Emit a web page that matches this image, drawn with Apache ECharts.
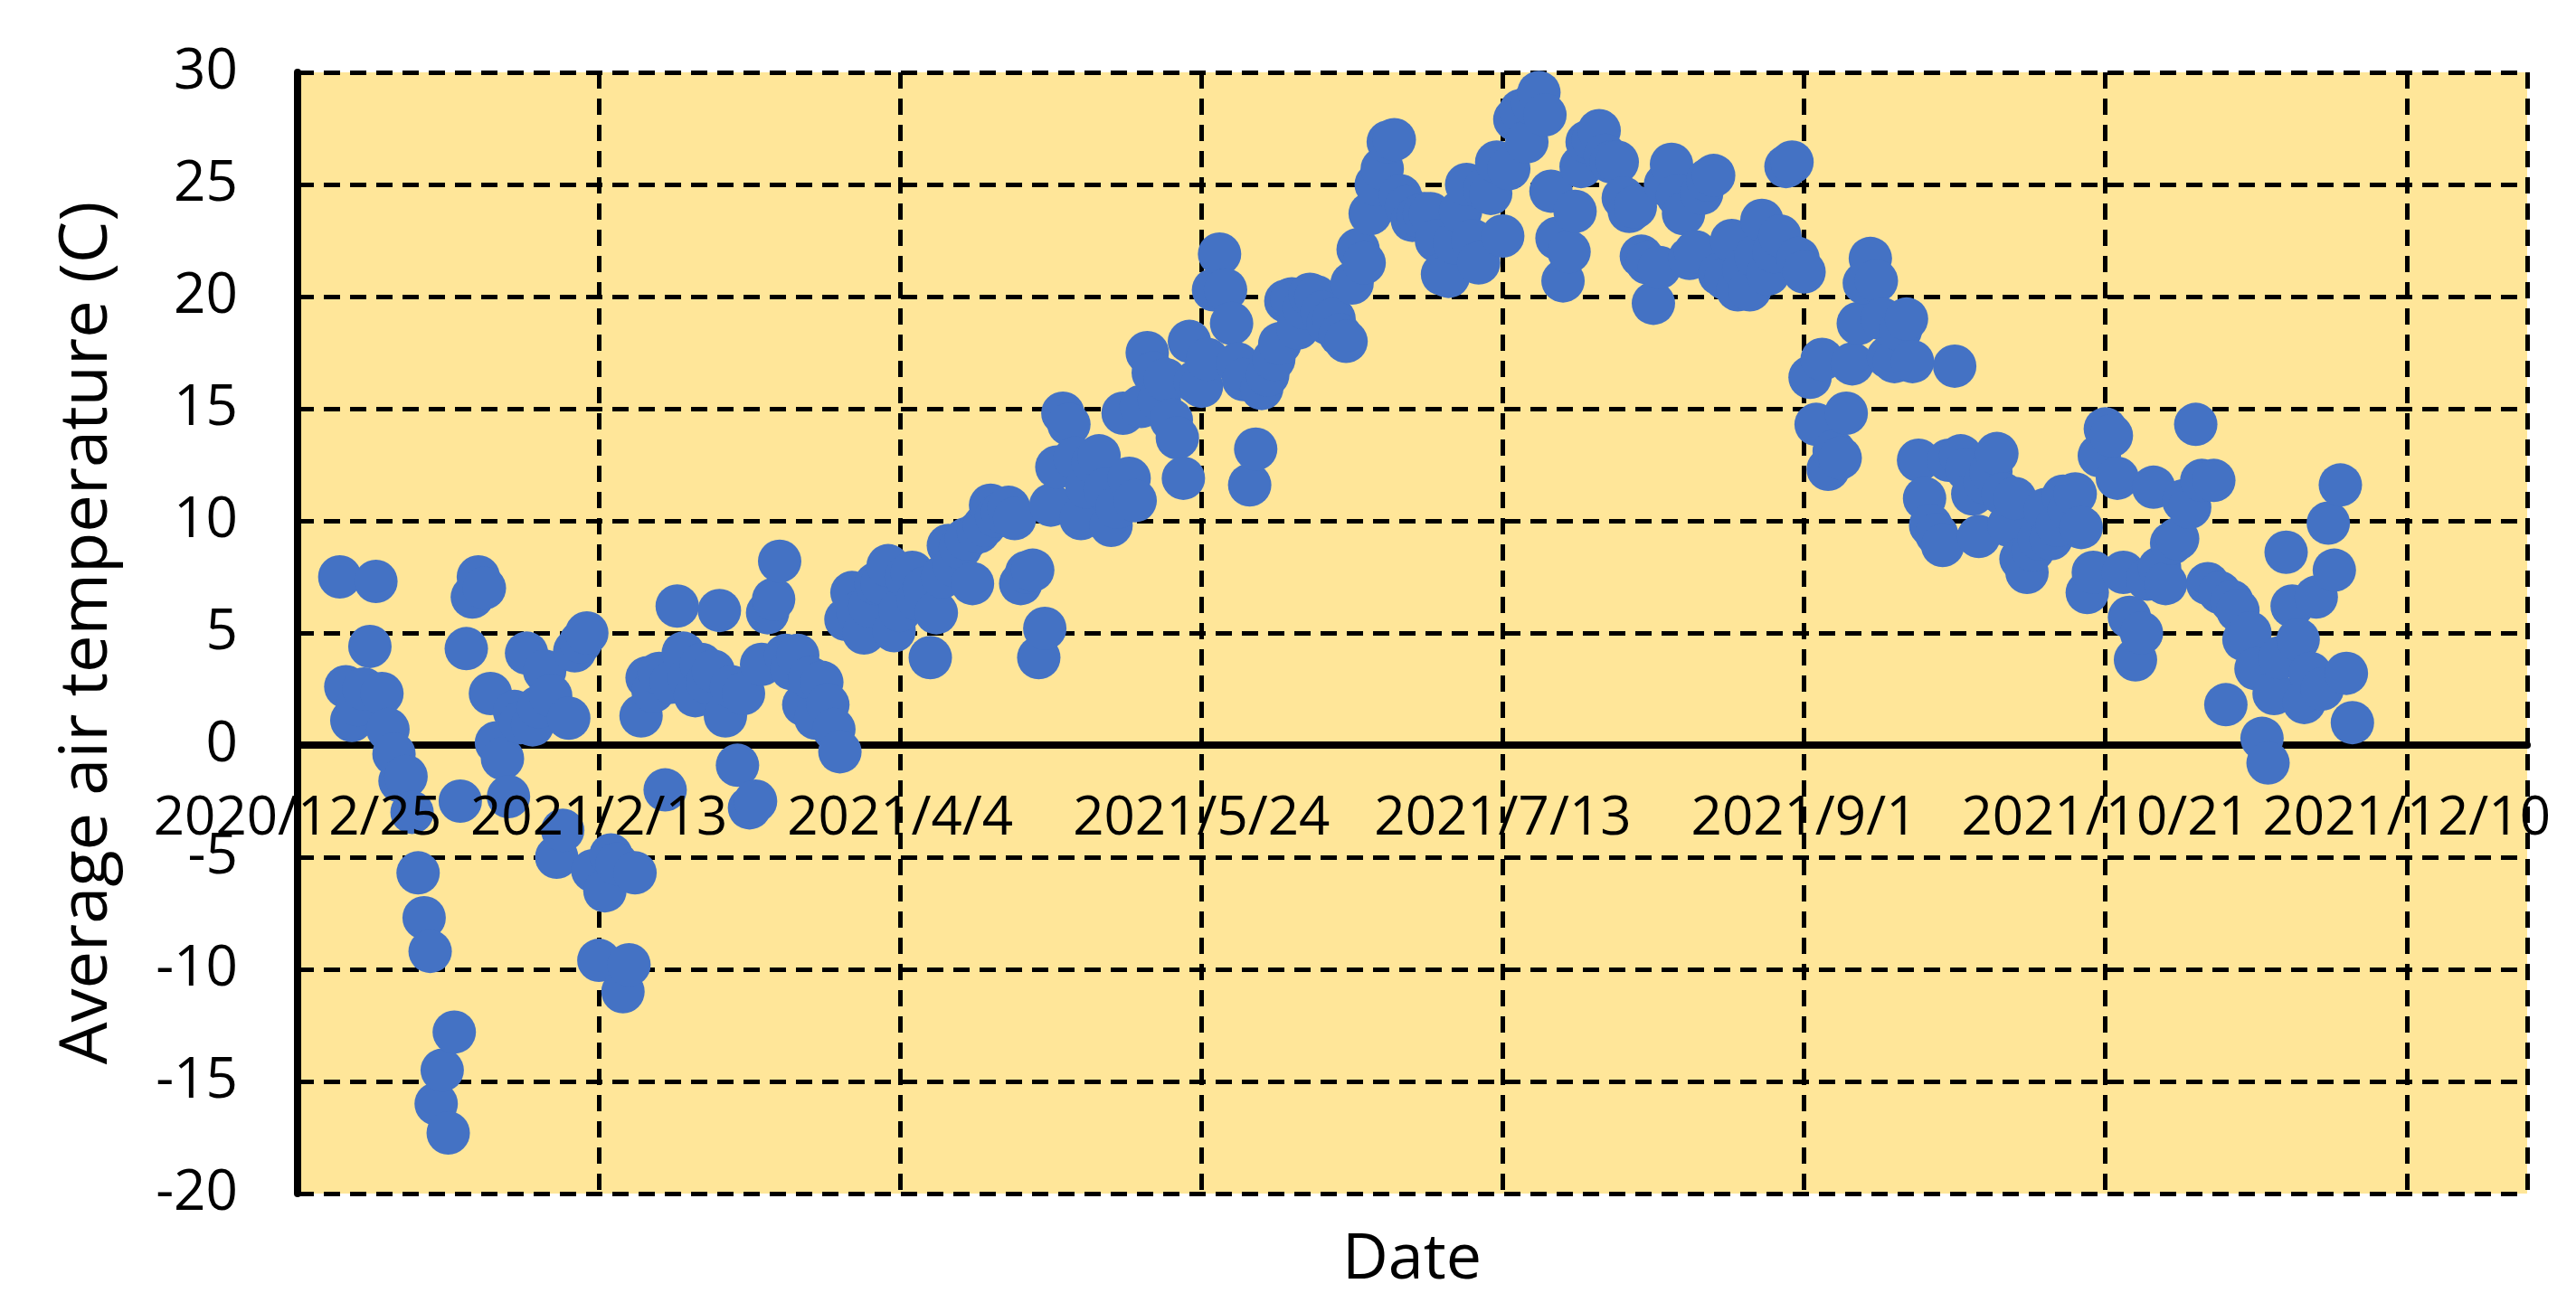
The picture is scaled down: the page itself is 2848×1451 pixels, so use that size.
<!DOCTYPE html>
<html><head><meta charset="utf-8">
<script src="https://cdn.jsdelivr.net/npm/echarts@6/dist/echarts.min.js"></script>
<style>html,body{margin:0;padding:0;background:#fff}#c{width:2848px;height:1451px}</style>
</head><body><div id="c"></div>
<script>
// x axis: days counted from 2020/12/25; one tick every 50 days
const xTickLabels = ['2020/12/25','2021/2/13','2021/4/4','2021/5/24','2021/7/13','2021/9/1','2021/10/21','2021/12/10'];
const firstDataDay = 7; // 2021/1/1
// daily average air temperature (C), by month of 2021
const jan = [7.5, 2.6, 1.1, 1.8, 2.5, 4.4, 7.3, 2.3, 0.7, -0.4, -1.6, -1.4, -3.0, -5.7, -7.7, -9.2, -16.0, -14.5, -17.3, -12.8, -2.5, 4.3, 6.6, 7.5, 7.0, 2.3, 0.1, -0.6, -2.3, 1.5, 1.0];
const feb = [4.1, 0.9, 1.7, 3.3, 2.2, -5.0, -3.8, 1.2, 4.2, 4.6, 5.0, -5.6, -9.6, -6.5, -4.9, -5.3, -11.0, -9.8, -5.7, 1.3, 3.0, 2.4, 3.2, -2.0, 2.8, 6.2, 4.1, 3.0];
const mar = [2.2, 3.6, 2.8, 3.3, 6.0, 1.3, 2.6, -0.9, 2.3, -2.8, -2.5, 3.6, 5.9, 6.5, 8.2, 4.0, 3.4, 4.0, 1.8, 3.0, 1.2, 2.8, 1.8, 0.7, -0.3, 5.6, 6.8, 5.9, 5.0, 6.2, 7.2];
const apr = [7.2, 8.0, 5.1, 6.0, 7.5, 7.7, 6.5, 7.0, 3.9, 5.9, 7.5, 8.9, 8.0, 8.8, 9.2, 7.2, 9.5, 9.8, 10.7, 10.2, 10.4, 10.6, 10.1, 7.2, 7.7, 7.8, 3.9, 5.2, 10.7, 12.4];
const may = [14.8, 14.3, 12.8, 10.1, 11.5, 12.6, 12.9, 11.4, 9.8, 10.6, 14.8, 11.9, 10.9, 15.1, 17.5, 16.6, 15.4, 16.3, 14.5, 13.7, 11.9, 18.0, 16.2, 16.0, 17.2, 20.3, 21.9, 20.3, 18.8, 17.0, 16.3];
const jun = [11.6, 13.2, 15.9, 16.5, 17.2, 17.9, 19.8, 19.9, 18.6, 19.5, 20.1, 20.0, 19.3, 18.8, 19.0, 18.3, 18.0, 20.6, 22.1, 21.5, 23.7, 25.0, 25.7, 26.9, 27.0, 24.5, 24.0, 23.4, 23.6, 23.7];
const jul = [23.7, 22.5, 21.0, 20.9, 22.4, 23.8, 25.0, 22.5, 21.5, 24.8, 24.6, 26.0, 22.7, 25.7, 27.9, 28.3, 26.9, 28.6, 29.1, 28.1, 24.7, 22.6, 20.7, 22.0, 23.8, 25.8, 26.9, 27.0, 27.4, 26.3, 26.0];
const aug = [26.0, 24.4, 23.8, 24.0, 21.8, 21.5, 19.7, 21.3, 25.0, 25.9, 24.5, 23.7, 21.7, 22.0, 24.6, 25.2, 25.4, 21.0, 20.8, 22.5, 20.3, 21.2, 20.3, 21.8, 23.4, 21.0, 22.0, 22.7, 25.8, 26.0, 21.7];
const sep = [21.1, 16.4, 14.3, 17.2, 12.3, 13.1, 12.8, 14.8, 17.0, 18.8, 20.6, 21.7, 20.7, 19.0, 17.3, 17.1, 18.5, 19.0, 17.1, 12.7, 11.0, 9.8, 9.4, 8.9, 12.7, 16.9, 12.9, 12.3, 11.2, 9.3];
const oct = [11.7, 12.2, 13.0, 11.2, 9.8, 11.0, 8.3, 7.7, 8.7, 9.2, 10.5, 9.2, 9.8, 11.1, 10.5, 11.2, 9.7, 6.8, 7.7, 12.9, 14.1, 13.8, 11.9, 7.7, 5.7, 3.8, 5.0, 7.4, 11.5, 7.9, 7.2];
const nov = [9.0, 9.2, 10.9, 10.6, 14.3, 11.8, 7.2, 11.8, 6.8, 1.8, 6.4, 6.0, 4.7, 5.0, 3.4, 0.3, -0.8, 2.3, 3.9, 8.6, 6.2, 4.7, 1.9, 3.2, 6.6, 2.5, 9.9, 7.8, 11.6, 3.2];
const dec = [1.0];

const months = [jan, feb, mar, apr, may, jun, jul, aug, sep, oct, nov, dec];
const points = [];
let day = firstDataDay;
months.forEach(m => m.forEach(t => { points.push([day, t]); day++; }));

const FONT = '"Open Sans", "Liberation Sans", sans-serif';
const xMin = 0, xMax = 370, xInterval = 50;
const yMin = -20, yMax = 30, yInterval = 5;
const labelFmt = v => (v % xInterval === 0 && v / xInterval < xTickLabels.length) ? xTickLabels[v / xInterval] : '';

// plot area geometry
const G = {left: 329, right: 54, top: 80, bottom: 131};
const plotH = 1451 - G.top - G.bottom;
const zeroFromTop = plotH * (yMax - 0) / (yMax - yMin); // height of the upper part (0..30)

const chart = echarts.init(document.getElementById('c'), null, {renderer: 'canvas'});
chart.setOption({
  animation: false,
  backgroundColor: '#ffffff',
  textStyle: {fontFamily: FONT},
  grid: [
    {left: G.left, right: G.right, top: G.top, bottom: G.bottom, show: true, backgroundColor: '#FFE699', borderWidth: 0, containLabel: false},
    // label-only grid whose lower edge is the y = 0 line (date labels drawn above markers)
    {left: G.left, right: G.right, top: G.top, height: zeroFromTop, show: false, containLabel: false}
  ],
  xAxis: [
    {
      gridIndex: 0, type: 'value', min: xMin, max: xMax, interval: xInterval, z: 0,
      axisLine: {show: true, onZero: true, lineStyle: {color: '#000', width: 8}},
      axisTick: {show: false},
      axisLabel: {show: false},
      splitLine: {show: true, lineStyle: {color: '#000', width: 5, type: [18, 11]}}
    },
    {
      gridIndex: 1, type: 'value', min: xMin, max: xMax, interval: xInterval, position: 'bottom', z: 10,
      axisLine: {show: false, onZero: false},
      axisTick: {show: false},
      splitLine: {show: false},
      axisLabel: {show: true, formatter: labelFmt, fontSize: 60, color: '#000', margin: 52, fontFamily: FONT, showMinLabel: true, showMaxLabel: true, hideOverlap: false}
    }
  ],
  yAxis: [
    {
      gridIndex: 0, type: 'value', min: yMin, max: yMax, interval: yInterval,
      axisLine: {show: true, onZero: false, lineStyle: {color: '#000', width: 8}},
      axisTick: {show: false},
      axisLabel: {fontSize: 62, color: '#000', margin: 66, fontFamily: FONT},
      splitLine: {show: true, lineStyle: {color: '#000', width: 5, type: [18, 11]}},
      name: 'Average air temperature (C)', nameLocation: 'middle', nameRotate: 90, nameGap: 195,
      nameTextStyle: {fontSize: 74, color: '#000', fontFamily: FONT}
    },
    {gridIndex: 1, type: 'value', min: 0, max: yMax, show: false}
  ],
  graphic: [{
    type: 'text', x: 1561, y: 1394, z: 100,
    style: {text: 'Date', fontSize: 70, fill: '#000', align: 'center', verticalAlign: 'middle', fontFamily: FONT}
  }],
  series: [
    {
      type: 'scatter', xAxisIndex: 0, yAxisIndex: 0, data: points, z: 2,
      symbol: 'circle', symbolSize: 48,
      itemStyle: {color: '#4472C4', opacity: 1},
      emphasis: {disabled: true}
    }
  ]
});
</script></body></html>
